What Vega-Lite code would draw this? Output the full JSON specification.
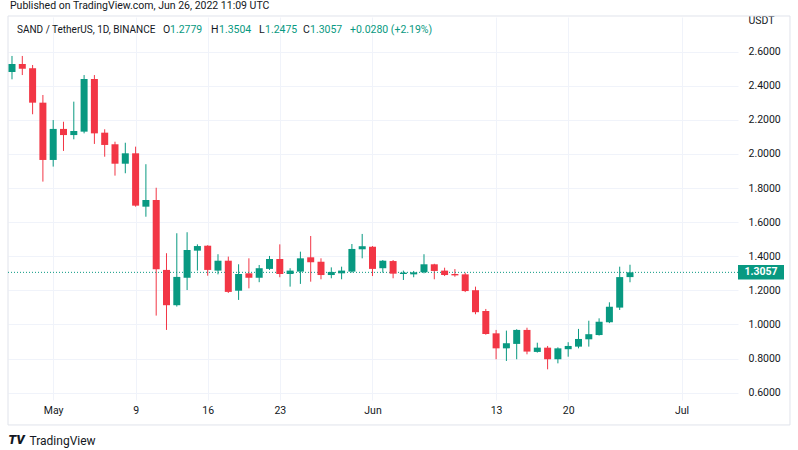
{
  "$schema": "https://vega.github.io/schema/vega-lite/v6.json",
  "width": 730,
  "height": 383,
  "autosize": {"type": "none"},
  "padding": {"left": 8, "top": 17, "right": 60, "bottom": 50},
  "background": "white",
  "config": {"view": {"stroke": null}, "font": "Roboto", "scale": {"continuousPadding": 0}},
  "resolve": {"axis": {"x": "independent", "y": "independent"}},
  "data": {
    "values": [
      {"date": "2022-04-27", "open": 2.481, "high": 2.575, "low": 2.438, "close": 2.528},
      {"date": "2022-04-28", "open": 2.528, "high": 2.575, "low": 2.463, "close": 2.500},
      {"date": "2022-04-29", "open": 2.503, "high": 2.522, "low": 2.233, "close": 2.301},
      {"date": "2022-04-30", "open": 2.301, "high": 2.346, "low": 1.838, "close": 1.965},
      {"date": "2022-05-01", "open": 1.965, "high": 2.199, "low": 1.926, "close": 2.147},
      {"date": "2022-05-02", "open": 2.147, "high": 2.189, "low": 2.018, "close": 2.111},
      {"date": "2022-05-03", "open": 2.111, "high": 2.307, "low": 2.086, "close": 2.135},
      {"date": "2022-05-04", "open": 2.131, "high": 2.463, "low": 2.121, "close": 2.440},
      {"date": "2022-05-05", "open": 2.440, "high": 2.463, "low": 2.059, "close": 2.121},
      {"date": "2022-05-06", "open": 2.125, "high": 2.145, "low": 1.984, "close": 2.053},
      {"date": "2022-05-07", "open": 2.057, "high": 2.072, "low": 1.873, "close": 1.943},
      {"date": "2022-05-08", "open": 1.943, "high": 2.066, "low": 1.887, "close": 2.004},
      {"date": "2022-05-09", "open": 2.004, "high": 2.043, "low": 1.691, "close": 1.697},
      {"date": "2022-05-10", "open": 1.691, "high": 1.940, "low": 1.632, "close": 1.730},
      {"date": "2022-05-11", "open": 1.730, "high": 1.802, "low": 1.052, "close": 1.324},
      {"date": "2022-05-12", "open": 1.320, "high": 1.418, "low": 0.968, "close": 1.113},
      {"date": "2022-05-13", "open": 1.113, "high": 1.535, "low": 1.105, "close": 1.279},
      {"date": "2022-05-14", "open": 1.274, "high": 1.541, "low": 1.202, "close": 1.437},
      {"date": "2022-05-15", "open": 1.433, "high": 1.470, "low": 1.316, "close": 1.460},
      {"date": "2022-05-16", "open": 1.462, "high": 1.465, "low": 1.286, "close": 1.320},
      {"date": "2022-05-17", "open": 1.316, "high": 1.412, "low": 1.294, "close": 1.374},
      {"date": "2022-05-18", "open": 1.374, "high": 1.398, "low": 1.185, "close": 1.191},
      {"date": "2022-05-19", "open": 1.198, "high": 1.353, "low": 1.144, "close": 1.296},
      {"date": "2022-05-20", "open": 1.300, "high": 1.388, "low": 1.212, "close": 1.274},
      {"date": "2022-05-21", "open": 1.274, "high": 1.349, "low": 1.248, "close": 1.330},
      {"date": "2022-05-22", "open": 1.326, "high": 1.402, "low": 1.320, "close": 1.384},
      {"date": "2022-05-23", "open": 1.384, "high": 1.470, "low": 1.277, "close": 1.296},
      {"date": "2022-05-24", "open": 1.296, "high": 1.330, "low": 1.222, "close": 1.316},
      {"date": "2022-05-25", "open": 1.310, "high": 1.427, "low": 1.238, "close": 1.388},
      {"date": "2022-05-26", "open": 1.394, "high": 1.519, "low": 1.251, "close": 1.365},
      {"date": "2022-05-27", "open": 1.368, "high": 1.388, "low": 1.265, "close": 1.290},
      {"date": "2022-05-28", "open": 1.290, "high": 1.335, "low": 1.271, "close": 1.308},
      {"date": "2022-05-29", "open": 1.300, "high": 1.339, "low": 1.265, "close": 1.316},
      {"date": "2022-05-30", "open": 1.310, "high": 1.472, "low": 1.304, "close": 1.443},
      {"date": "2022-05-31", "open": 1.441, "high": 1.531, "low": 1.388, "close": 1.459},
      {"date": "2022-06-01", "open": 1.456, "high": 1.460, "low": 1.284, "close": 1.326},
      {"date": "2022-06-02", "open": 1.330, "high": 1.378, "low": 1.304, "close": 1.374},
      {"date": "2022-06-03", "open": 1.372, "high": 1.378, "low": 1.271, "close": 1.298},
      {"date": "2022-06-04", "open": 1.296, "high": 1.316, "low": 1.261, "close": 1.304},
      {"date": "2022-06-05", "open": 1.294, "high": 1.314, "low": 1.277, "close": 1.306},
      {"date": "2022-06-06", "open": 1.306, "high": 1.412, "low": 1.300, "close": 1.353},
      {"date": "2022-06-07", "open": 1.353, "high": 1.356, "low": 1.265, "close": 1.314},
      {"date": "2022-06-08", "open": 1.316, "high": 1.333, "low": 1.284, "close": 1.290},
      {"date": "2022-06-09", "open": 1.296, "high": 1.325, "low": 1.280, "close": 1.288},
      {"date": "2022-06-10", "open": 1.294, "high": 1.304, "low": 1.190, "close": 1.196},
      {"date": "2022-06-11", "open": 1.201, "high": 1.222, "low": 1.060, "close": 1.072},
      {"date": "2022-06-12", "open": 1.079, "high": 1.091, "low": 0.940, "close": 0.944},
      {"date": "2022-06-13", "open": 0.948, "high": 0.968, "low": 0.796, "close": 0.860},
      {"date": "2022-06-14", "open": 0.860, "high": 0.964, "low": 0.786, "close": 0.890},
      {"date": "2022-06-15", "open": 0.886, "high": 0.972, "low": 0.796, "close": 0.968},
      {"date": "2022-06-16", "open": 0.968, "high": 0.981, "low": 0.825, "close": 0.841},
      {"date": "2022-06-17", "open": 0.839, "high": 0.893, "low": 0.835, "close": 0.864},
      {"date": "2022-06-18", "open": 0.864, "high": 0.874, "low": 0.737, "close": 0.796},
      {"date": "2022-06-19", "open": 0.796, "high": 0.866, "low": 0.772, "close": 0.860},
      {"date": "2022-06-20", "open": 0.855, "high": 0.896, "low": 0.811, "close": 0.874},
      {"date": "2022-06-21", "open": 0.870, "high": 0.974, "low": 0.860, "close": 0.915},
      {"date": "2022-06-22", "open": 0.913, "high": 1.022, "low": 0.870, "close": 0.943},
      {"date": "2022-06-23", "open": 0.938, "high": 1.036, "low": 0.935, "close": 1.016},
      {"date": "2022-06-24", "open": 1.013, "high": 1.130, "low": 1.008, "close": 1.104},
      {"date": "2022-06-25", "open": 1.099, "high": 1.339, "low": 1.085, "close": 1.2779},
      {"date": "2022-06-26", "open": 1.2779, "high": 1.3504, "low": 1.2475, "close": 1.3057}
    ]
  },
  "layer": [
    {
      "data": {"values": [{}]},
      "mark": {"type": "rect", "fillOpacity": 0, "stroke": "#e0e3eb", "strokeWidth": 1},
      "encoding": {
        "x": {"datum": {"year": 2022, "month": 4, "date": 26, "hours": 14, "minutes": 41, "utc": true}, "type": "temporal", "scale": {"type": "utc", "nice": false, "padding": 0, "domain": [{"year": 2022, "month": 4, "date": 26, "hours": 14, "minutes": 41, "utc": true}, {"year": 2022, "month": 7, "date": 6, "hours": 11, "minutes": 39, "utc": true}]}, "axis": null},
        "x2": {"datum": {"year": 2022, "month": 7, "date": 11, "hours": 12, "minutes": 45, "utc": true}},
        "y": {"datum": 2.8094, "type": "quantitative", "scale": {"domain": [0.557, 2.8035], "nice": false, "zero": false, "padding": 0}, "axis": null},
        "y2": {"datum": 0.4106}
      }
    },
    {
      "mark": {"type": "rule", "strokeWidth": 1},
      "encoding": {
        "x": {
          "field": "date", "type": "temporal",
          "scale": {"type": "utc", "nice": false, "padding": 0, "domain": [{"year": 2022, "month": 4, "date": 26, "hours": 14, "minutes": 41, "utc": true}, {"year": 2022, "month": 7, "date": 6, "hours": 11, "minutes": 39, "utc": true}]},
          "axis": {
            "values": [
              {"year": 2022, "month": 5, "date": 1, "utc": true},
              {"year": 2022, "month": 5, "date": 9, "utc": true},
              {"year": 2022, "month": 5, "date": 16, "utc": true},
              {"year": 2022, "month": 5, "date": 23, "utc": true},
              {"year": 2022, "month": 6, "date": 1, "utc": true},
              {"year": 2022, "month": 6, "date": 13, "utc": true},
              {"year": 2022, "month": 6, "date": 20, "utc": true},
              {"year": 2022, "month": 7, "date": 1, "utc": true}
            ],
            "labelExpr": "utcdate(datum.value) == 1 ? utcFormat(datum.value, '%b') : utcFormat(datum.value, '%-d')",
            "grid": true, "gridColor": "#f0f3fa", "gridWidth": 1,
            "ticks": false, "domain": false,
            "labelPadding": 5, "labelFontSize": 10.5, "labelColor": "#131722", "labelFont": "Roboto",
            "title": "TradingView", "titleX": 21, "titleY": 40, "titleAlign": "left", "titleBaseline": "middle",
            "titleFontSize": 12, "titleFontWeight": "normal", "titleColor": "#131722", "titleFont": "Roboto"
          }
        },
        "y": {
          "field": "low", "type": "quantitative",
          "scale": {"domain": [0.557, 2.8035], "nice": false, "zero": false, "padding": 0},
          "axis": {
            "orient": "right",
            "values": [0.6, 0.8, 1.0, 1.2, 1.4, 1.6, 1.8, 2.0, 2.2, 2.4, 2.6],
            "format": ".4f",
            "grid": true, "gridColor": "#f0f3fa", "gridWidth": 1,
            "ticks": false, "domain": false,
            "labelAlign": "left", "labelPadding": 10, "labelFontSize": 10.5, "labelColor": "#131722", "labelFont": "Roboto",
            "title": "USDT", "titleAngle": 0, "titleAlign": "left", "titleBaseline": "middle",
            "titleX": 10, "titleY": 3, "titleFontSize": 10.5, "titleFontWeight": "normal", "titleColor": "#131722", "titleFont": "Roboto"
          }
        },
        "y2": {"field": "high"},
        "color": {"condition": {"test": "datum.close >= datum.open", "value": "#089981"}, "value": "#f23645"}
      }
    },
    {
      "data": {"values": [{}]},
      "mark": {"type": "rule", "strokeDash": [1, 2], "color": "#089981", "strokeWidth": 1},
      "encoding": {
        "y": {"datum": 1.3057, "type": "quantitative", "scale": {"domain": [0.557, 2.8035], "nice": false, "zero": false, "padding": 0}, "axis": null}
      }
    },
    {
      "mark": {"type": "bar", "size": 7},
      "encoding": {
        "x": {"field": "date", "type": "temporal", "scale": {"type": "utc", "nice": false, "padding": 0, "domain": [{"year": 2022, "month": 4, "date": 26, "hours": 14, "minutes": 41, "utc": true}, {"year": 2022, "month": 7, "date": 6, "hours": 11, "minutes": 39, "utc": true}]}, "axis": null},
        "y": {"field": "open", "type": "quantitative", "scale": {"domain": [0.557, 2.8035], "nice": false, "zero": false, "padding": 0}, "axis": null},
        "y2": {"field": "close"},
        "color": {"condition": {"test": "datum.close >= datum.open", "value": "#089981"}, "value": "#f23645"}
      }
    },
    {
      "data": {"values": [{}]},
      "mark": {"type": "rect", "color": "#089981"},
      "encoding": {
        "x": {"datum": {"year": 2022, "month": 7, "date": 6, "hours": 11, "minutes": 39, "utc": true}, "type": "temporal", "axis": null},
        "x2": {"datum": {"year": 2022, "month": 7, "date": 10, "hours": 22, "minutes": 50, "utc": true}},
        "y": {"datum": 1.349, "type": "quantitative", "axis": null},
        "y2": {"datum": 1.264}
      }
    },
    {
      "data": {"values": [{}]},
      "mark": {"type": "text", "color": "white", "fontSize": 10.5, "fontWeight": "bold", "align": "center", "baseline": "middle"},
      "encoding": {
        "x": {"datum": {"year": 2022, "month": 7, "date": 8, "hours": 17, "minutes": 15, "utc": true}, "type": "temporal", "axis": null},
        "y": {"datum": 1.3057, "type": "quantitative", "axis": null},
        "text": {"value": "1.3057"}
      }
    },
    {
      "data": {"values": [{}]},
      "mark": {"type": "text", "color": "#131722", "fontSize": 10.5, "align": "left", "baseline": "middle", "dx": -2},
      "encoding": {
        "x": {"datum": {"year": 2022, "month": 4, "date": 27, "utc": true}, "type": "temporal", "axis": null},
        "y": {"datum": 2.868, "type": "quantitative", "axis": null},
        "text": {"value": "Published on TradingView.com, Jun 26, 2022 11:09 UTC"}
      }
    },
    {
      "data": {"values": [{}]},
      "mark": {"type": "text", "color": "#131722", "fontSize": 10, "align": "left", "baseline": "middle", "dx": 5},
      "encoding": {
        "x": {"datum": {"year": 2022, "month": 4, "date": 27, "utc": true}, "type": "temporal", "axis": null},
        "y": {"datum": 2.727, "type": "quantitative", "axis": null},
        "text": {"value": "SAND / TetherUS, 1D, BINANCE"}
      }
    },
    {
      "data": {"values": [{}]},
      "mark": {"type": "text", "color": "#131722", "fontSize": 10.5, "align": "left", "baseline": "middle", "dx": 151},
      "encoding": {
        "x": {"datum": {"year": 2022, "month": 4, "date": 27, "utc": true}, "type": "temporal", "axis": null},
        "y": {"datum": 2.727, "type": "quantitative", "axis": null},
        "text": {"value": "O"}
      }
    },
    {
      "data": {"values": [{}]},
      "mark": {"type": "text", "color": "#089981", "fontSize": 10.5, "align": "left", "baseline": "middle", "dx": 158},
      "encoding": {
        "x": {"datum": {"year": 2022, "month": 4, "date": 27, "utc": true}, "type": "temporal", "axis": null},
        "y": {"datum": 2.727, "type": "quantitative", "axis": null},
        "text": {"value": "1.2779"}
      }
    },
    {
      "data": {"values": [{}]},
      "mark": {"type": "text", "color": "#131722", "fontSize": 10.5, "align": "left", "baseline": "middle", "dx": 199},
      "encoding": {
        "x": {"datum": {"year": 2022, "month": 4, "date": 27, "utc": true}, "type": "temporal", "axis": null},
        "y": {"datum": 2.727, "type": "quantitative", "axis": null},
        "text": {"value": "H"}
      }
    },
    {
      "data": {"values": [{}]},
      "mark": {"type": "text", "color": "#089981", "fontSize": 10.5, "align": "left", "baseline": "middle", "dx": 207},
      "encoding": {
        "x": {"datum": {"year": 2022, "month": 4, "date": 27, "utc": true}, "type": "temporal", "axis": null},
        "y": {"datum": 2.727, "type": "quantitative", "axis": null},
        "text": {"value": "1.3504"}
      }
    },
    {
      "data": {"values": [{}]},
      "mark": {"type": "text", "color": "#131722", "fontSize": 10.5, "align": "left", "baseline": "middle", "dx": 247},
      "encoding": {
        "x": {"datum": {"year": 2022, "month": 4, "date": 27, "utc": true}, "type": "temporal", "axis": null},
        "y": {"datum": 2.727, "type": "quantitative", "axis": null},
        "text": {"value": "L"}
      }
    },
    {
      "data": {"values": [{}]},
      "mark": {"type": "text", "color": "#089981", "fontSize": 10.5, "align": "left", "baseline": "middle", "dx": 253},
      "encoding": {
        "x": {"datum": {"year": 2022, "month": 4, "date": 27, "utc": true}, "type": "temporal", "axis": null},
        "y": {"datum": 2.727, "type": "quantitative", "axis": null},
        "text": {"value": "1.2475"}
      }
    },
    {
      "data": {"values": [{}]},
      "mark": {"type": "text", "color": "#131722", "fontSize": 10.5, "align": "left", "baseline": "middle", "dx": 291},
      "encoding": {
        "x": {"datum": {"year": 2022, "month": 4, "date": 27, "utc": true}, "type": "temporal", "axis": null},
        "y": {"datum": 2.727, "type": "quantitative", "axis": null},
        "text": {"value": "C"}
      }
    },
    {
      "data": {"values": [{}]},
      "mark": {"type": "text", "color": "#089981", "fontSize": 10.5, "align": "left", "baseline": "middle", "dx": 298},
      "encoding": {
        "x": {"datum": {"year": 2022, "month": 4, "date": 27, "utc": true}, "type": "temporal", "axis": null},
        "y": {"datum": 2.727, "type": "quantitative", "axis": null},
        "text": {"value": "1.3057"}
      }
    },
    {
      "data": {"values": [{}]},
      "mark": {"type": "text", "color": "#089981", "fontSize": 10.5, "align": "left", "baseline": "middle", "dx": 338},
      "encoding": {
        "x": {"datum": {"year": 2022, "month": 4, "date": 27, "utc": true}, "type": "temporal", "axis": null},
        "y": {"datum": 2.727, "type": "quantitative", "axis": null},
        "text": {"value": "+0.0280 (+2.19%)"}
      }
    },
    {
      "data": {"values": [{}]},
      "mark": {"type": "text", "color": "#131722", "fontSize": 13, "fontWeight": 900, "align": "center", "baseline": "middle", "dx": 4.5, "fontStyle": "italic"},
      "encoding": {
        "x": {"datum": {"year": 2022, "month": 4, "date": 27, "utc": true}, "type": "temporal", "axis": null},
        "y": {"datum": 0.3226, "type": "quantitative", "axis": null},
        "text": {"value": "TV"}
      }
    }
  ]
}
